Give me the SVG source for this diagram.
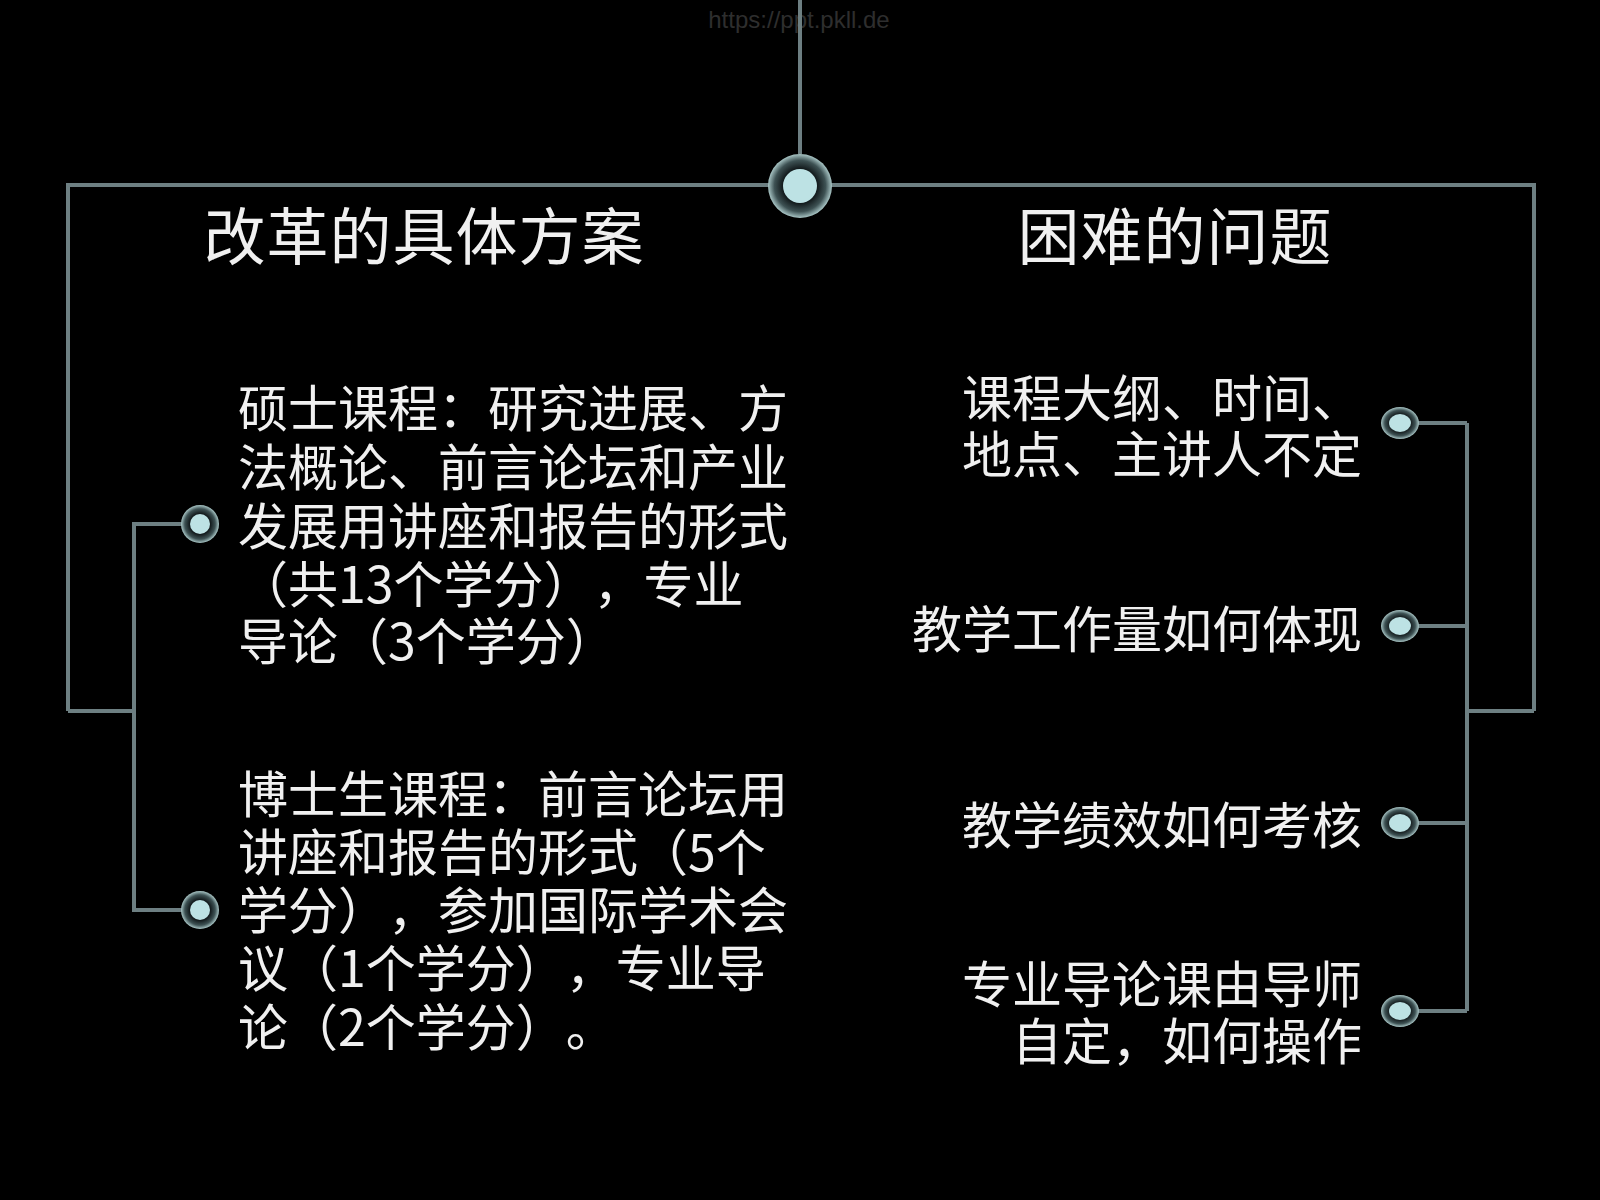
<svg xmlns="http://www.w3.org/2000/svg" width="1600" height="1200" viewBox="0 0 1600 1200">
<defs>
<radialGradient id="ring" cx="50%" cy="50%" r="50%">
<stop offset="0%" stop-color="#0a1012"/>
<stop offset="55%" stop-color="#141c1e"/>
<stop offset="80%" stop-color="#3e5254"/>
<stop offset="100%" stop-color="#a9c6c6"/>
</radialGradient>
<style>
text{text-spacing-trim:space-all}
.ln{stroke:#6d7f82;stroke-width:4;fill:none}
.core{fill:#bde2e4}
.t{font-family:"Noto Sans CJK SC","Noto Sans",sans-serif;fill:#f0f0f0;font-size:50px}
.ttl{font-family:"Noto Sans CJK SC","Noto Sans",sans-serif;fill:#f0f0f0;font-size:62px;text-anchor:middle;letter-spacing:1px}
.r{text-anchor:end}
</style>
</defs>
<rect x="0" y="0" width="1600" height="1200" fill="#000"/>
<text x="799" y="28" font-family="Liberation Sans, sans-serif" font-size="24" fill="#2e2e2e" text-anchor="middle">https://ppt.pkll.de</text>
<g id="connectors">
<line class="ln" x1="800" y1="0" x2="800" y2="154"/>
<polyline class="ln" points="68,711 68,185 1534,185 1534,711"/>
<line class="ln" x1="68" y1="711" x2="134" y2="711"/>
<polyline class="ln" points="182,524 134,524 134,910 182,910"/>
<line class="ln" x1="1467" y1="711" x2="1534" y2="711"/>
<line class="ln" x1="1467" y1="423" x2="1467" y2="1011"/>
<line class="ln" x1="1418" y1="423" x2="1467" y2="423"/>
<line class="ln" x1="1418" y1="626" x2="1467" y2="626"/>
<line class="ln" x1="1418" y1="823" x2="1467" y2="823"/>
<line class="ln" x1="1418" y1="1011" x2="1467" y2="1011"/>
</g>
<g id="hub">
<circle cx="800" cy="186" r="32" fill="url(#ring)"/>
<circle class="core" cx="800" cy="186" r="17"/>
</g>
<g id="title-left"><text class="ttl" x="424" y="260">改革的具体方案</text></g>
<g id="title-right"><text class="ttl" x="1175" y="260">困难的问题</text></g>
<g id="node-master">
<circle cx="200" cy="524" r="19" fill="url(#ring)"/>
<circle class="core" cx="200" cy="524" r="10"/>
<text class="t" x="238" y="427">硕士课程：研究进展、方</text>
<text class="t" x="238" y="486">法概论、前言论坛和产业</text>
<text class="t" x="238" y="545">发展用讲座和报告的形式</text>
<text class="t" x="238" y="603">（共13个学分），专业</text>
<text class="t" x="238" y="660">导论（3个学分）</text>
</g>
<g id="node-phd">
<circle cx="200" cy="910" r="19" fill="url(#ring)"/>
<circle class="core" cx="200" cy="910" r="10"/>
<text class="t" x="238" y="813">博士生课程：前言论坛用</text>
<text class="t" x="238" y="871">讲座和报告的形式（5个</text>
<text class="t" x="238" y="929">学分），参加国际学术会</text>
<text class="t" x="238" y="987">议（1个学分），专业导</text>
<text class="t" x="238" y="1046">论（2个学分）。</text>
</g>
<g id="node-q1">
<ellipse cx="1400" cy="423" rx="19" ry="16" fill="url(#ring)"/>
<ellipse class="core" cx="1400" cy="423" rx="11" ry="9"/>
<text class="t r" x="1362" y="417">课程大纲、时间、</text>
<text class="t r" x="1362" y="473">地点、主讲人不定</text>
</g>
<g id="node-q2">
<ellipse cx="1400" cy="626" rx="19" ry="16" fill="url(#ring)"/>
<ellipse class="core" cx="1400" cy="626" rx="11" ry="9"/>
<text class="t r" x="1362" y="648">教学工作量如何体现</text>
</g>
<g id="node-q3">
<ellipse cx="1400" cy="823" rx="19" ry="16" fill="url(#ring)"/>
<ellipse class="core" cx="1400" cy="823" rx="11" ry="9"/>
<text class="t r" x="1362" y="844">教学绩效如何考核</text>
</g>
<g id="node-q4">
<ellipse cx="1400" cy="1011" rx="19" ry="16" fill="url(#ring)"/>
<ellipse class="core" cx="1400" cy="1011" rx="11" ry="9"/>
<text class="t r" x="1362" y="1003">专业导论课由导师</text>
<text class="t r" x="1362" y="1060">自定，如何操作</text>
</g>
</svg>
